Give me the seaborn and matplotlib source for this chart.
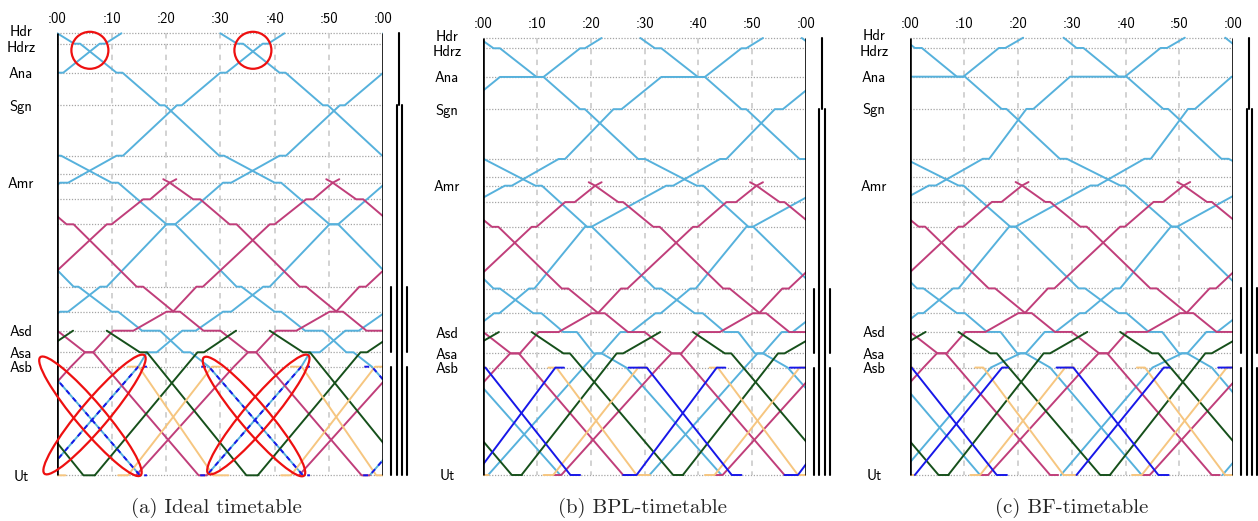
import numpy as np
import pandas as pd
import matplotlib
matplotlib.use("Agg")
import matplotlib.pyplot as plt
import matplotlib.transforms as mtrans
from matplotlib.patches import Ellipse
import seaborn as sns

sns.set_theme(style="white")
plt.rcParams['font.family'] = ['cmss10', 'DejaVu Sans']
plt.rcParams['axes.unicode_minus'] = False

# ---------------- data ----------------
station_names = ['Hdr', 'Hdrz', 'Ana', 'Sgn', 's5', 's6', 'Amr', 's8', 's9',
                 's10', 's11', 'Asd', 'Asa', 'Asb', 'Ut']
station_pos = [0, 10.4, 39.4, 72, 122.4, 140.4, 149.4, 166, 191,
               253.4, 278.4, 297.4, 319, 333.4, 442]
label_stations = ['Hdr', 'Hdrz', 'Ana', 'Sgn', 'Amr', 'Asd', 'Asa', 'Asb', 'Ut']
label_nudge = [-3.0, 2.5, 0, 0, 0, 0, 0, 0, 0]   # small vertical offsets of the crowded labels
minute_ticks = [0, 10, 20, 30, 40, 50, 60]
minute_labels = [':00', ':10', ':20', ':30', ':40', ':50', ':00']
period = 30  # cyclic timetable, minutes

section_from = ['Hdr', 'Sgn', 's10', 'Asa', 'Asb']
section_to = ['Sgn', 's10', 'Asa', 'Asb', 'Ut']
section_tracks = [1, 2, 4, 2, 4]

captions = ['(a) Ideal timetable', '(b) BPL-timetable', '(c) BF-timetable']

# ---- panel (a) ideal
cyan_s_a = [(0, 'Hdr'), (3.1, 'Hdrz'), (4.2, 'Hdrz'), (10.9, 'Ana'), (12.0, 'Ana'), (18.9, 'Sgn'), (19.8, 'Sgn'),
            (29.8, 's5'), (30.7, 's5'), (40.0, 'Amr'), (41.2, 'Amr'), (50.1, 's9'), (51.7, 's9'), (63.0, 's10'),
            (63.9, 's10'), (70.0, 's11'), (71.2, 's11'), (75.6, 'Asd'), (78.9, 'Asd'), (83.2, 'Asa'), (84.5, 'Asa'),
            (87.9, 'Asb'), (105.2, 'Ut')]
cyan_n_a = [(-2.5, 'Ut'), (14.9, 'Asb'), (16.5, 'Asa'), (18.3, 'Asa'), (23.0, 'Asd'), (25.5, 'Asd'), (30.5, 's11'),
            (32.0, 's11'), (37.9, 's10'), (39.1, 's10'), (50.1, 's9'), (51.7, 's9'), (60.5, 'Amr'), (62.0, 'Amr'),
            (70.9, 's5'), (72.1, 's5'), (82.0, 'Sgn'), (82.9, 'Sgn'), (90.0, 'Ana'), (91.1, 'Ana'), (97.8, 'Hdrz'),
            (98.8, 'Hdrz'), (101.8, 'Hdr')]
pink_s_a = [(19.5, 145.9), (20.7, 'Amr'), (25.0, 's8'), (26.3, 's8'), (31.7, 's9'), (33.0, 's9'), (44.6, 's10'),
            (45.8, 's10'), (51.4, 's11'), (52.6, 's11'), (56.9, 'Asd'), (60.0, 'Asd'), (65.1, 'Asa'), (66.6, 'Asa'),
            (86.0, 'Ut'), (87.5, 'Ut')]
pink_n_a = [(-15.5, 'Ut'), (2.5, 'Asb'), (5.1, 'Asa'), (6.6, 'Asa'), (10.3, 'Asd'), (14.0, 'Asd'), (20.1, 's11'),
            (21.3, 's11'), (25.6, 's10'), (26.8, 's10'), (39.1, 's9'), (40.0, 's9'), (45.8, 's8'), (47.1, 's8'),
            (50.7, 'Amr'), (51.9, 145.9)]
green_s_a = [(9.1, 'Asd'), (15.2, 'Asa'), (16.5, 'Asa'), (34.8, 'Ut'), (36.9, 'Ut')]
green_n_a = [(6.9, 'Ut'), (25.8, 'Asa'), (27.0, 'Asa'), (32.9, 'Asd')]
orange_s_a = [(13.0, 'Asb'), (15.0, 'Asb'), (28.7, 'Ut'), (31.5, 'Ut')]
orange_n_a = [(11.2, 'Ut'), (13.0, 'Ut'), (28.5, 'Asb'), (30.0, 'Asb')]
blue_s_a = [(26.5, 'Asb'), (27.9, 'Asb'), (45.2, 'Ut'), (46.5, 'Ut')]
blue_n_a = [(26.3, 'Ut'), (27.5, 'Ut'), (44.9, 'Asb'), (46.5, 'Asb')]

# ---- panel (b) BPL
cyan_s_b = [(-0.8, 'Hdr'), (1.9, 'Hdrz'), (3.1, 'Hdrz'), (9.9, 'Ana'), (11.2, 'Ana'), (18.0, 'Sgn'), (18.9, 'Sgn'),
            (28.8, 's5'), (30.1, 's5'), (39.7, 'Amr'), (40.9, 'Amr'), (49.3, 's9'), (50.2, 's9'), (61.9, 's10'),
            (63.1, 's10'), (69.3, 's11'), (70.8, 's11'), (74.9, 'Asd'), (77.4, 'Asd'), (80.5, 'Asa'), (82.0, 'Asa'),
            (86.6, 'Asb'), (104.3, 'Ut')]
cyan_n_b = [(0.9, 'Ut'), (18.6, 'Asb'), (21.0, 'Asa'), (22.0, 'Asa'), (25.5, 'Asd'), (27.5, 'Asd'), (32.0, 's11'),
            (33.0, 's11'), (38.5, 's10'), (39.5, 's10'), (48.9, 's9'), (50.1, 's9'), (64.0, 'Amr'), (65.3, 'Amr'),
            (74.0, 's5'), (75.2, 's5'), (84.2, 'Sgn'), (85.7, 'Sgn'), (93.1, 'Ana'), (101.2, 'Ana'), (108.0, 'Hdrz'),
            (108.9, 'Hdrz'), (112.0, 'Hdr')]
pink_s_b = [(19.6, 145.9), (20.8, 'Amr'), (25.1, 's8'), (26.0, 's8'), (31.6, 's9'), (32.8, 's9'), (44.6, 's10'),
            (45.8, 's10'), (51.4, 's11'), (52.6, 's11'), (56.9, 'Asd'), (60.0, 'Asd'), (65.1, 'Asa'), (66.6, 'Asa'),
            (86.0, 'Ut'), (87.5, 'Ut')]
pink_n_b = [(-17.0, 'Ut'), (-15.5, 'Ut'), (2.5, 'Asb'), (5.0, 'Asa'), (6.8, 'Asa'), (10.3, 'Asd'), (14.0, 'Asd'),
            (20.1, 's11'), (21.3, 's11'), (25.6, 's10'), (26.8, 's10'), (39.0, 's9'), (39.9, 's9'), (45.2, 's8'),
            (47.0, 's8'), (50.8, 'Amr'), (52.0, 145.9)]
green_s_b = [(9.0, 'Asd'), (14.9, 'Asa'), (16.1, 'Asa'), (35.3, 'Ut'), (37.2, 'Ut')]
green_n_b = [(7.1, 'Ut'), (24.8, 'Asa'), (26.0, 'Asa'), (32.9, 'Asd')]
orange_s_b = [(12.1, 'Asb'), (13.6, 'Asb'), (28.5, 'Ut'), (31.0, 'Ut')]
orange_n_b = [(11.2, 'Ut'), (13.0, 'Ut'), (28.8, 'Asb'), (30.5, 'Asb')]
blue_s_b = [(27.0, 'Asb'), (30.4, 'Asb'), (46.2, 'Ut'), (48.0, 'Ut')]
blue_n_b = [(26.0, 'Ut'), (28.5, 'Ut'), (43.4, 'Asb'), (45.0, 'Asb')]

# ---- panel (c) BF
cyan_s_c = [(-1.5, 'Hdr'), (0.9, 'Hdrz'), (2.2, 'Hdrz'), (8.7, 'Ana'), (10.2, 'Ana'), (17.0, 'Sgn'), (17.9, 'Sgn'),
            (27.8, 's5'), (29.1, 's5'), (39.0, 'Amr'), (39.9, 'Amr'), (48.6, 's9'), (49.6, 's9'), (61.3, 's10'),
            (62.5, 's10'), (68.7, 's11'), (70.2, 's11'), (74.3, 'Asd'), (76.8, 'Asd'), (79.9, 'Asa'), (81.4, 'Asa'),
            (86.0, 'Asb'), (103.0, 'Ut')]
cyan_n_c = [(-2.0, 'Ut'), (15.0, 'Asb'), (20.5, 'Asa'), (21.5, 'Asa'), (25.0, 'Asd'), (27.0, 'Asd'), (31.5, 's11'),
            (32.5, 's11'), (38.0, 's10'), (39.0, 's10'), (48.4, 's9'), (49.6, 's9'), (63.5, 'Amr'), (64.8, 'Amr'),
            (73.5, 's5'), (74.7, 's5'), (81.6, 'Sgn'), (82.9, 'Sgn'), (89.7, 'Ana'), (99.9, 'Ana'), (106.5, 'Hdrz'),
            (107.7, 'Hdrz'), (111.0, 'Hdr')]
pink_s_c = [(19.6, 145.9), (20.8, 'Amr'), (25.1, 's8'), (26.0, 's8'), (31.6, 's9'), (32.8, 's9'), (44.6, 's10'),
            (45.8, 's10'), (51.4, 's11'), (52.6, 's11'), (56.9, 'Asd'), (60.0, 'Asd'), (65.1, 'Asa'), (66.6, 'Asa'),
            (86.0, 'Ut'), (87.5, 'Ut')]
pink_n_c = [(-17.0, 'Ut'), (-15.5, 'Ut'), (2.5, 'Asb'), (5.0, 'Asa'), (6.8, 'Asa'), (10.3, 'Asd'), (14.0, 'Asd'),
            (20.1, 's11'), (21.3, 's11'), (25.6, 's10'), (26.8, 's10'), (39.0, 's9'), (39.9, 's9'), (45.2, 's8'),
            (47.0, 's8'), (50.8, 'Amr'), (52.0, 145.9)]
green_s_c = [(9.0, 'Asd'), (14.9, 'Asa'), (16.1, 'Asa'), (35.3, 'Ut'), (37.2, 'Ut')]
green_n_c = [(7.1, 'Ut'), (24.8, 'Asa'), (26.0, 'Asa'), (32.9, 'Asd')]
orange_s_c = [(12.1, 'Asb'), (13.6, 'Asb'), (28.5, 'Ut'), (31.0, 'Ut')]
orange_n_c = [(11.2, 'Ut'), (13.0, 'Ut'), (28.8, 'Asb'), (30.5, 'Asb')]
blue_s_c = [(27.2, 'Asb'), (30.3, 'Asb'), (46.1, 'Ut'), (48.0, 'Ut')]
blue_n_c = [(0.9, 'Ut'), (17.1, 'Asb'), (18.2, 'Asb')]

panels = [
    {'cyan': [cyan_s_a, cyan_n_a], 'pink': [pink_s_a, pink_n_a], 'green': [green_s_a, green_n_a],
     'orange': [orange_s_a, orange_n_a], 'blue': [blue_s_a, blue_n_a]},
    {'cyan': [cyan_s_b, cyan_n_b], 'pink': [pink_s_b, pink_n_b], 'green': [green_s_b, green_n_b],
     'orange': [orange_s_b, orange_n_b], 'blue': [blue_s_b, blue_n_b]},
    {'cyan': [cyan_s_c, cyan_n_c], 'pink': [pink_s_c, pink_n_c], 'green': [green_s_c, green_n_c],
     'orange': [orange_s_c, orange_n_c], 'blue': [blue_s_c, blue_n_c]},
]

# annotations in panel (a): crossing conflicts (time, distance)
circle_t = [6.0, 36.0]
circle_y = [17.0, 17.0]
ellipse_t = [6.1, 6.85, 36.2, 37.0]
ellipse_y = [383.0, 381.2, 383.2, 381.2]
ellipse_angle = [-49.7, 49.8, -49.7, 49.8]

# ---------------- styling / layout ----------------
colors = {'cyan': '#56b1dc', 'pink': '#c03e7a', 'green': '#16501b', 'orange': '#f6c680', 'blue': '#1717e8'}
draw_order = ['cyan', 'pink', 'green', 'orange', 'blue']
W, H = 1258, 521
panel_left_px = [57.3, 483.3, 910.0]
panel_width_px = [326.0, 322.7, 323.3]
panel_top_px = [33.3, 38.0, 37.7]
panel_bot_px = [475.3, 475.0, 475.0]
caption_x_px = [216, 643, 1072]
caption_y_px = 508
pad_u = 3.0
pos = dict(zip(station_names, station_pos))
ymax = pos['Ut']


def yval(v):
    return pos[v] if isinstance(v, str) else v


rows = []
for pi, pan in enumerate(panels):
    for cname, paths in pan.items():
        for ti, path in enumerate(paths):
            for k in range(-5, 4):
                unit = f'{cname}{ti}_{k}'
                for t, s in path:
                    rows.append((pi, cname, unit, t + k * period, yval(s)))
df = pd.DataFrame(rows, columns=['panel', 'color', 'unit', 't', 'y'])

fig = plt.figure(figsize=(W / 100, H / 100), dpi=100)
fig.patch.set_facecolor('white')

for pi in range(3):
    sc = (panel_bot_px[pi] - panel_top_px[pi]) / ymax
    top = panel_top_px[pi] - pad_u * sc
    bot = panel_bot_px[pi] + pad_u * sc
    ax = fig.add_axes([panel_left_px[pi] / W, 1 - bot / H, panel_width_px[pi] / W, (bot - top) / H])
    ax.set_facecolor('white')
    # grid
    ax.hlines(station_pos, 0, 60, colors='#a4a4a4', linestyles=(0, (1, 1.3)), lw=0.9, zorder=1)
    ax.vlines(minute_ticks[1:-1], pos['Hdr'], pos['Ut'], colors='#cfcfcf', linestyles=(0, (3, 3)), lw=1.3, zorder=1)
    sub = df[df.panel == pi]
    for cname in draw_order:
        d = sub[sub.color == cname]
        kw = {}
        if pi == 0 and cname == 'blue':
            kw['linestyle'] = (0, (2.5, 2.5))
        sns.lineplot(data=d, x='t', y='y', units='unit', estimator=None, sort=False,
                     color=colors[cname], lw=1.4, ax=ax, legend=False, zorder=3, **kw)
    ax.vlines([0, 60], pos['Hdr'], pos['Ut'], colors='black', lw=1.9, zorder=4)
    ax.set_xlim(0, 60)
    ax.set_ylim(ymax + pad_u, -pad_u)
    for sp in ax.spines.values():
        sp.set_visible(False)
    ax.set_xlabel('')
    ax.set_ylabel('')
    ax.set_xticks(minute_ticks)
    ax.set_xticklabels(minute_labels)
    ax.xaxis.set_ticks_position('top')
    ax.tick_params(axis='x', length=0, pad=3, labelsize=10.5, colors='black')
    ax.set_yticks([pos[s] + n for s, n in zip(label_stations, label_nudge)])
    ax.set_yticklabels(label_stations)
    ax.tick_params(axis='y', length=0, pad=26, labelsize=10.5, colors='black')
    for lab in ax.get_yticklabels():
        lab.set_horizontalalignment('center')
    ax.grid(False)
    # track layout bars
    offs = {1: [15.7], 2: [13.2, 18.8], 4: [8.0, 13.2, 18.8, 24.0]}
    for f, t_, n in zip(section_from, section_to, section_tracks):
        for o in offs[n]:
            xf = 1 + o / panel_width_px[pi]
            ax.plot([xf, xf], [pos[f], pos[t_]], color='black', lw=1.5,
                    transform=mtrans.blended_transform_factory(ax.transAxes, ax.transData), clip_on=False)
    fig.text(caption_x_px[pi] / W, 1 - caption_y_px / H, captions[pi], ha='center', va='center',
             family=['cmr10', 'DejaVu Serif'], fontsize=15)
    if pi == 0:
        for ct, cy in zip(circle_t, circle_y):
            tr = fig.dpi_scale_trans + mtrans.ScaledTranslation(ct, cy, ax.transData)
            ax.add_patch(Ellipse((0, 0), 0.37, 0.37, transform=tr, fill=False, ec='#ee1010', lw=1.6,
                                 zorder=6, clip_on=False))
        for et, ey, ea in zip(ellipse_t, ellipse_y, ellipse_angle):
            tr = fig.dpi_scale_trans + mtrans.ScaledTranslation(et, ey, ax.transData)
            ax.add_patch(Ellipse((0, 0), 1.55, 0.28, angle=ea, transform=tr, fill=False, ec='#ee1010',
                                 lw=1.6, zorder=6, clip_on=False))

fig.savefig('out.png', dpi=100, facecolor='white')
